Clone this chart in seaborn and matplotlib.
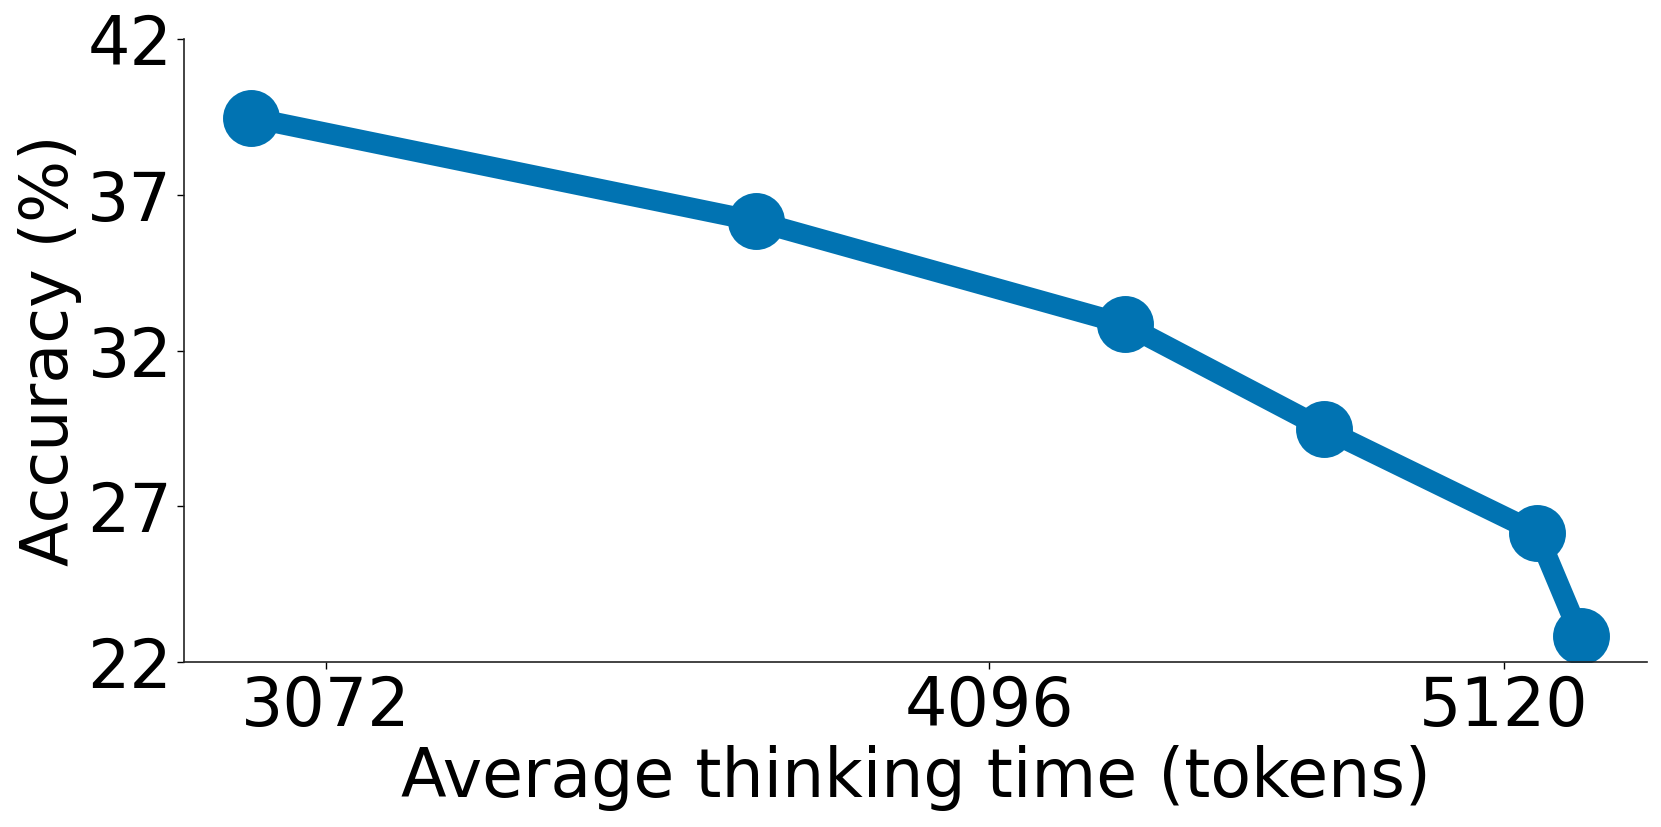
import matplotlib
matplotlib.use("Agg")
import matplotlib.pyplot as plt
from matplotlib.ticker import FixedLocator, FixedFormatter, NullLocator
import pandas as pd
import seaborn as sns

# values
avg_tokens = [2973, 3702, 4344, 4735, 5194, 5293]
accuracy = [39.48, 36.15, 32.84, 29.49, 26.15, 22.82]
x_ticks = [3072, 4096, 5120]
y_ticks = [22, 27, 32, 37, 42]

df = pd.DataFrame({"tokens": avg_tokens, "acc": accuracy})

sns.set_style("ticks")
plt.rcParams["font.family"] = ["DejaVu Sans"]
color = sns.color_palette("colorblind")[0]

fig, ax = plt.subplots(figsize=(16.61, 8.27), dpi=100)
sns.lineplot(data=df, x="tokens", y="acc", ax=ax, color=color, linewidth=15,
             marker="o", markersize=41, markeredgewidth=0, sort=False)

ax.set_xscale("log", base=2)
ax.xaxis.set_major_locator(FixedLocator(x_ticks))
ax.xaxis.set_major_formatter(FixedFormatter([str(t) for t in x_ticks]))
ax.xaxis.set_minor_locator(NullLocator())
ax.set_ylim(22, 42)
ax.set_yticks(y_ticks)

ax.set_xlabel("Average thinking time (tokens)", fontsize=48, labelpad=4, color="black")
ax.set_ylabel("Accuracy (%)", fontsize=47, labelpad=4, color="black")
ax.tick_params(axis="both", labelsize=48, length=5, width=1, colors="black")
for s in ["left", "bottom"]:
    ax.spines[s].set_color("#222222")
    ax.spines[s].set_linewidth(1.2)
sns.despine(ax=ax)

fig.subplots_adjust(left=0.1108, right=0.9916, top=0.9528, bottom=0.1995)
fig.savefig("out.png", dpi=100)
plt.close(fig)
